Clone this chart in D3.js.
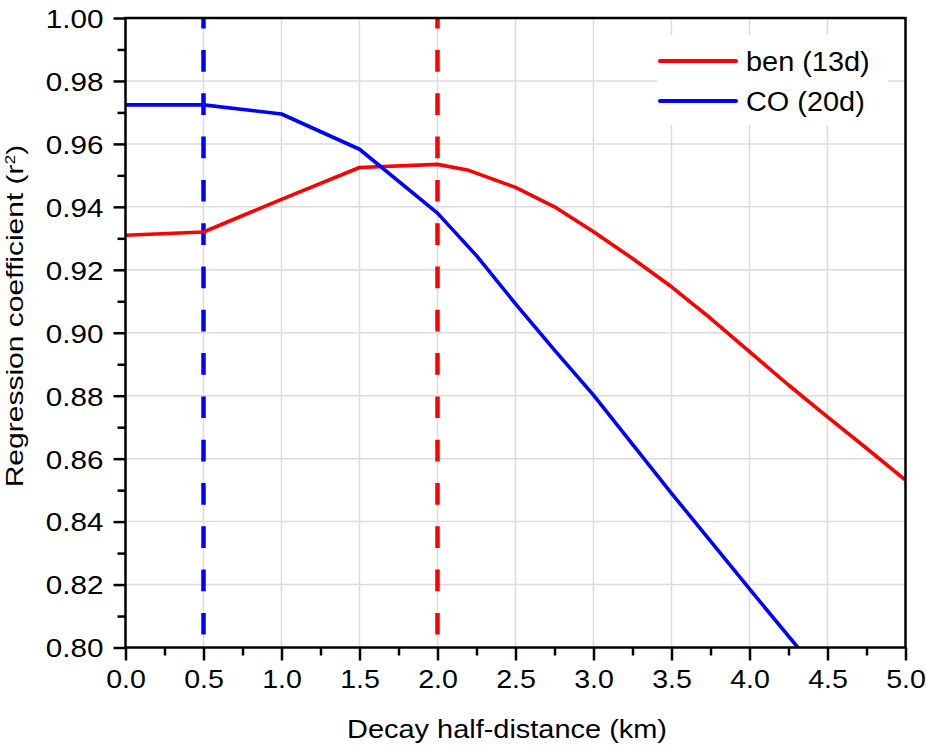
<!DOCTYPE html>
<html>
<head>
<meta charset="utf-8">
<script src="https://cdn.jsdelivr.net/npm/d3@7"></script>
<style>
  body { margin: 0; background: #fff; }
  text { font-family: "Liberation Sans", Arial, Helvetica, sans-serif; fill: #000; }
</style>
</head>
<body>
<div id="chart"></div>
<script>
// values
var benX = [0, 0.5, 1.0, 1.5, 2.0, 2.2, 2.5, 2.75, 3.0, 3.25, 3.5, 3.75, 4.0, 4.25, 4.5, 4.75, 5.0];
var benY = [0.931, 0.932, 0.9424, 0.9525, 0.9535, 0.9516, 0.9462, 0.9400, 0.9321, 0.9236, 0.9146, 0.9046, 0.8940, 0.8834, 0.8733, 0.8633, 0.8532];
var coX = [0, 0.5, 1.0, 1.5, 2.0, 2.25, 2.5, 2.75, 3.0, 3.5, 4.0, 4.31];
var coY = [0.9724, 0.9724, 0.9695, 0.9583, 0.9380, 0.9245, 0.9092, 0.8945, 0.8802, 0.8490, 0.8186, 0.8000];
var seriesNames = ["ben (13d)", "CO (20d)"];
var seriesColors = ["#ff0000", "#0000ff"];
var optimumX = [2.0, 0.5]; // dashed markers: ben, CO
var xTicks = [0, 0.5, 1.0, 1.5, 2.0, 2.5, 3.0, 3.5, 4.0, 4.5, 5.0];
var yTicks = [0.80, 0.82, 0.84, 0.86, 0.88, 0.90, 0.92, 0.94, 0.96, 0.98, 1.00];

var W = 926, H = 751;
var pLeft = 125.5, pRight = 905.5, pTop = 18, pBottom = 647.5;

var svg = d3.select("#chart").append("svg")
    .attr("width", W)
    .attr("height", H);

var x = d3.scaleLinear().domain([0, 5]).range([pLeft, pRight]);
var y = d3.scaleLinear().domain([0.80, 1.00]).range([pBottom, pTop]);

// the source font runs wider than Liberation Sans
function stretch(sel, k) {
  sel.each(function () {
    var w = this.getComputedTextLength();
    d3.select(this).attr("textLength", w * k).attr("lengthAdjust", "spacingAndGlyphs");
  });
}

// grid
var grid = svg.append("g").attr("stroke", "#dcdcdc").attr("stroke-width", 1.5);
grid.selectAll(".gx").data(xTicks.slice(1, -1)).enter().append("line")
    .attr("x1", function (d) { return x(d); }).attr("x2", function (d) { return x(d); })
    .attr("y1", pTop).attr("y2", pBottom);
grid.selectAll(".gy").data(yTicks.slice(1, -1)).enter().append("line")
    .attr("y1", function (d) { return y(d); }).attr("y2", function (d) { return y(d); })
    .attr("x1", pLeft).attr("x2", pRight);

// legend background hides the grid
svg.append("rect")
    .attr("x", 657).attr("y", 35).attr("width", 231).attr("height", 90)
    .attr("fill", "#fff");

svg.append("defs").append("clipPath").attr("id", "plot")
  .append("rect").attr("x", pLeft).attr("y", pTop)
    .attr("width", pRight - pLeft).attr("height", pBottom - pTop);

// dashed markers
svg.selectAll(".opt").data(optimumX).enter().append("line")
    .attr("x1", function (d) { return x(d); }).attr("x2", function (d) { return x(d); })
    .attr("y1", pTop).attr("y2", function (d, i) { return i == 0 ? 640 : 637; })
    .attr("stroke", function (d, i) { return seriesColors[i]; })
    .attr("stroke-width", 4.5)
    .attr("stroke-dasharray", "21.7,21.6")
    .attr("stroke-dashoffset", 11.3);

var line = d3.line()
    .x(function (d) { return x(d[0]); })
    .y(function (d) { return y(d[1]); });

var series = [d3.zip(benX, benY), d3.zip(coX, coY)];
svg.append("g").attr("clip-path", "url(#plot)")
  .selectAll("path").data(series).enter().append("path")
    .attr("d", line)
    .attr("fill", "none")
    .attr("stroke", function (d, i) { return seriesColors[i]; })
    .attr("stroke-width", 3.6)
    .attr("stroke-linejoin", "round");

// frame
svg.append("rect")
    .attr("x", pLeft).attr("y", pTop)
    .attr("width", pRight - pLeft).attr("height", pBottom - pTop)
    .attr("fill", "none").attr("stroke", "#000").attr("stroke-width", 2.5);

// axes
var xAxis = svg.append("g").attr("transform", "translate(0," + pBottom + ")")
    .call(d3.axisBottom(x).tickValues(xTicks).tickSize(13).tickPadding(6)
        .tickFormat(d3.format(".1f")));
var xMinor = svg.append("g").attr("transform", "translate(0," + pBottom + ")")
    .call(d3.axisBottom(x).tickValues(d3.range(0.25, 5, 0.5)).tickSize(8).tickFormat(""));
var yAxis = svg.append("g").attr("transform", "translate(" + pLeft + ",0)")
    .call(d3.axisLeft(y).tickValues(yTicks).tickSize(12).tickPadding(10)
        .tickFormat(d3.format(".2f")));
var yMinor = svg.append("g").attr("transform", "translate(" + pLeft + ",0)")
    .call(d3.axisLeft(y).tickValues(d3.range(0.81, 1.0, 0.02)).tickSize(8).tickFormat(""));

[xAxis, xMinor, yAxis, yMinor].forEach(function (g) {
  g.select(".domain").remove();
  g.selectAll(".tick line").attr("stroke", "#000").attr("stroke-width", 2.5);
  g.selectAll("text").attr("font-size", "26px").attr("fill", "#000")
      .attr("font-family", "Liberation Sans, Arial, sans-serif");
});
yAxis.selectAll("text").attr("x", -22).attr("dy", "0.36em");
xAxis.selectAll("text").attr("y", 22).attr("dy", "0.71em");
stretch(yAxis.selectAll("text"), 1.14);
stretch(xAxis.selectAll("text"), 1.1);

// titles
svg.append("text")
    .attr("x", 507).attr("y", 738)
    .attr("text-anchor", "middle")
    .attr("font-size", "26px")
    .attr("textLength", 320).attr("lengthAdjust", "spacingAndGlyphs")
    .text("Decay half-distance (km)");

var yt = svg.append("text")
    .attr("transform", "translate(23,316) rotate(-90)")
    .attr("text-anchor", "middle")
    .attr("font-size", "24px");
yt.append("tspan").text("Regression coefficient (r");
yt.append("tspan").attr("font-size", "14px").attr("dy", -8).text("2");
yt.append("tspan").attr("dy", 8).text(")");
stretch(yt, 1.25);

// legend
var leg = svg.selectAll(".leg").data(seriesNames).enter().append("g")
    .attr("transform", function (d, i) { return "translate(660," + (61 + i * 40) + ")"; });
leg.append("line")
    .attr("x1", 0).attr("x2", 76)
    .attr("stroke", function (d, i) { return seriesColors[i]; })
    .attr("stroke-width", 4)
    .attr("stroke-linecap", "round");
var legText = leg.append("text")
    .attr("x", 86).attr("dy", "0.36em")
    .attr("font-size", "27px")
    .text(function (d) { return d; });
stretch(legText, 1.07);
</script>
</body>
</html>
